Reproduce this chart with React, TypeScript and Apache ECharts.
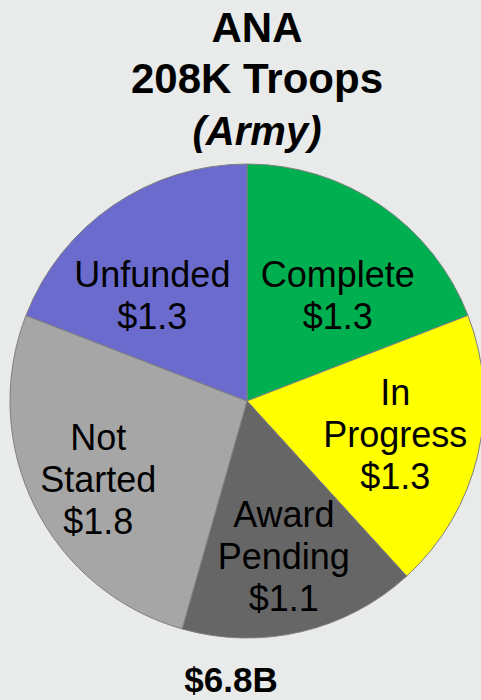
import React, { useEffect, useRef } from "react";
import * as echarts from "echarts";

const categories = ["Complete", "In Progress", "Award Pending", "Not Started", "Unfunded"];
const labelTexts = ["Complete", "In\nProgress", "Award\nPending", "Not\nStarted", "Unfunded"];
const values = [1.3, 1.3, 1.1, 1.8, 1.3];
const colors = ["#00B050", "#FFFF00", "#666666", "#A6A6A6", "#6B6BCD"];
const labelShift = [
  [22, -5],
  [30, 6],
  [9, 37],
  [-40, 24],
  [-26, -5],
];
const titleLines = ["ANA", "208K Troops", "(Army)"];
const totalText = "$6.8B";

export default function App() {
  const ref = useRef<HTMLDivElement>(null);
  useEffect(() => {
    if (!ref.current) return;
    const chart = echarts.init(ref.current, undefined, { renderer: "svg" });
    const font = "'Liberation Sans', Arial, sans-serif";
    chart.setOption({
      animation: false,
      backgroundColor: "#e8ebe9",
      title: [
        {
          text: `{a|${titleLines[0]}}\n{a|${titleLines[1]}}\n{b|${titleLines[2]}}`,
          left: 252,
          top: -3,
          textAlign: "center",
          textStyle: {
            rich: {
              a: { fontFamily: font, fontSize: 42, fontWeight: "bold", color: "#000", lineHeight: 51 },
              b: { fontFamily: font, fontSize: 40, fontWeight: "bold", fontStyle: "italic", color: "#000", lineHeight: 53 },
            },
          },
        },
        {
          text: totalText,
          left: 226,
          top: 657,
          textAlign: "center",
          textStyle: { fontFamily: font, fontSize: 35, fontWeight: "bold", color: "#000" },
        },
      ],
      series: [
        {
          type: "pie",
          center: [247, 401],
          radius: 237,
          startAngle: 90,
          clockwise: true,
          avoidLabelOverlap: false,
          itemStyle: { borderColor: "#7f7f7f", borderWidth: 1 },
          label: {
            show: true,
            position: "inside",
            fontFamily: font,
            fontSize: 36,
            lineHeight: 42,
            color: "#000",
            align: "center",
            formatter: (p: any) => `${labelTexts[p.dataIndex]}\n$${values[p.dataIndex].toFixed(1)}`,
          },
          labelLine: { show: false },
          labelLayout: (p: any) => ({ dx: labelShift[p.dataIndex][0], dy: labelShift[p.dataIndex][1] }),
          emphasis: { disabled: true },
          data: categories.map((c, i) => ({ name: c, value: values[i], itemStyle: { color: colors[i] } })),
        },
      ],
    });
    return () => chart.dispose();
  }, []);
  return <div ref={ref} style={{ position: "fixed", left: 0, top: 0, width: 481, height: 700 }} />;
}
